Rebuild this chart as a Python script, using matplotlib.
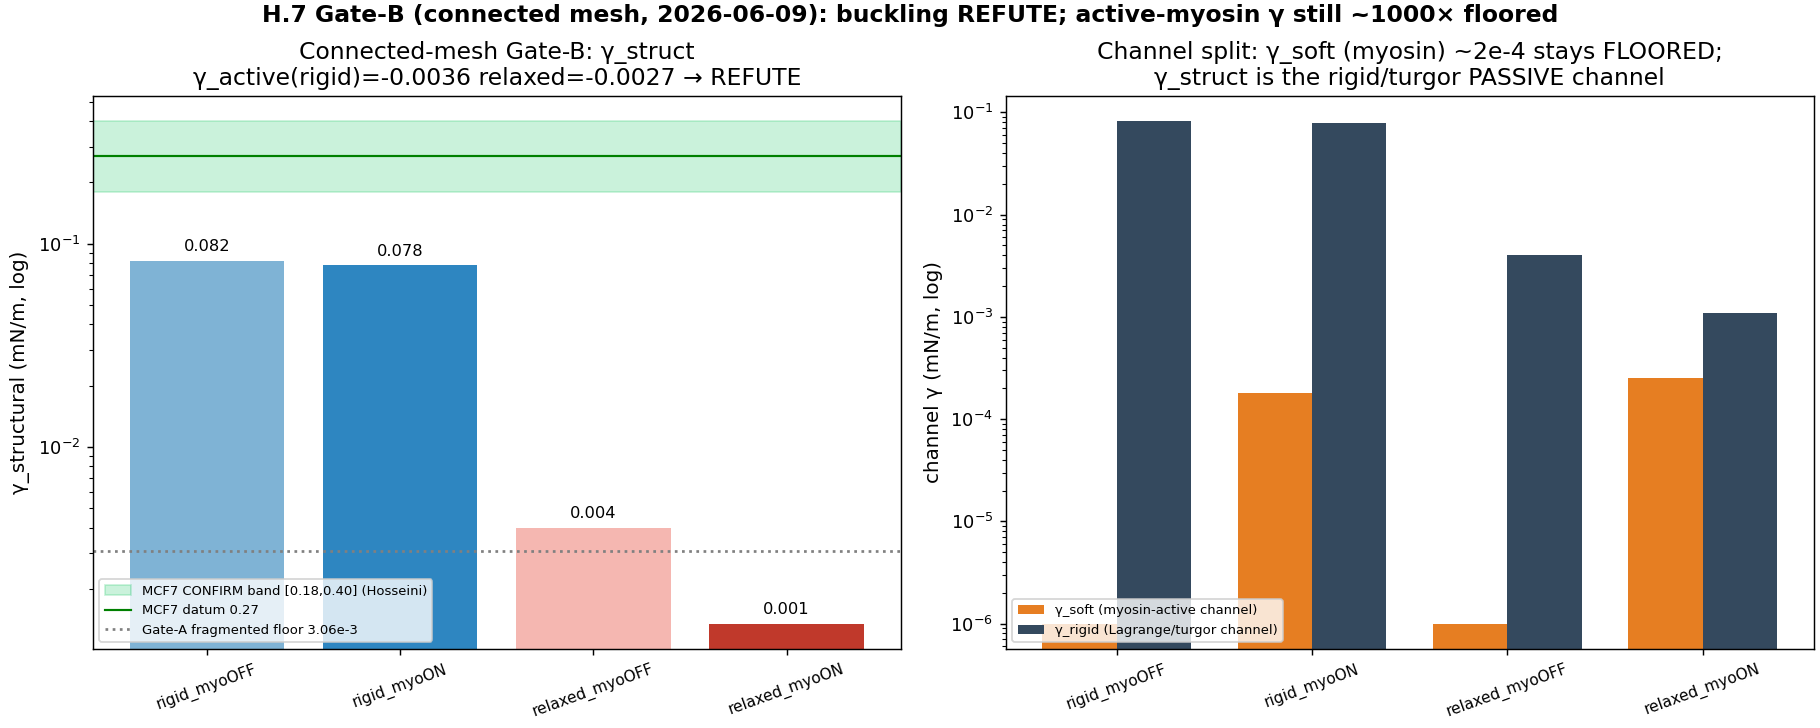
import matplotlib
matplotlib.use('Agg')
import matplotlib.pyplot as plt
import numpy as np

conds = ['rigid_myoOFF', 'rigid_myoON', 'relaxed_myoOFF', 'relaxed_myoON']
gamma_struct = [0.082, 0.078, 0.0040, 0.00135]
gamma_soft = [1.0e-6, 1.78e-4, 1.0e-6, 2.5e-4]
gamma_rigid = [0.082, 0.078, 0.0040, 0.0011]
band_lo, band_hi = 0.18, 0.40
datum = 0.27
floor = 3.06e-3

bar_cols = ['#7fb3d5', '#2e86c1', '#f5b7b1', '#c0392b']

fig, (ax1, ax2) = plt.subplots(1, 2, figsize=(14, 5.6), dpi=130)
x = np.arange(len(conds))

# left: structural gamma per condition
ax1.bar(x, gamma_struct, color=bar_cols, width=0.8)
ax1.axhspan(band_lo, band_hi, color='#2ecc71', alpha=0.25,
            label='MCF7 CONFIRM band [0.18,0.40] (Hosseini)')
ax1.axhline(datum, color='green', lw=1.2, label='MCF7 datum 0.27')
ax1.axhline(floor, color='gray', ls=':', lw=1.5, label='Gate-A fragmented floor 3.06e-3')
ax1.set_yscale('log')
for xi, v in zip(x, gamma_struct):
    ax1.text(xi, v * 1.08, f'{v:.3f}', ha='center', va='bottom', fontsize=9)
ax1.set_xticks(x)
ax1.set_xticklabels(conds, rotation=20)
ax1.set_ylabel('γ_structural (mN/m, log)', fontsize=11)
ax1.set_title('Connected-mesh Gate-B: γ_struct\n'
              'γ_active(rigid)=-0.0036 relaxed=-0.0027 → REFUTE', fontsize=13)
ax1.legend(loc='lower left', fontsize=7.3)

# right: channel split
w = 0.38
ax2.bar(x - w / 2, gamma_soft, w, color='#e67e22', label='γ_soft (myosin-active channel)')
ax2.bar(x + w / 2, gamma_rigid, w, color='#34495e', label='γ_rigid (Lagrange/turgor channel)')
ax2.set_yscale('log')
ax2.set_xticks(x)
ax2.set_xticklabels(conds, rotation=20)
ax2.set_ylabel('channel γ (mN/m, log)', fontsize=11)
ax2.set_title('Channel split: γ_soft (myosin) ~2e-4 stays FLOORED;\n'
              'γ_struct is the rigid/turgor PASSIVE channel', fontsize=13)
ax2.legend(loc='lower left', fontsize=7.3)

for ax in (ax1, ax2):
    ax.tick_params(axis='y', labelsize=10)
    ax.tick_params(axis='x', labelsize=8.5)

fig.suptitle('H.7 Gate-B (connected mesh, 2026-06-09): buckling REFUTE; '
             'active-myosin γ still ~1000× floored', fontsize=13, fontweight='bold',
             y=0.995)
fig.subplots_adjust(left=0.051, right=0.9965, top=0.868, bottom=0.109, wspace=0.13)
fig.savefig('out.png')
